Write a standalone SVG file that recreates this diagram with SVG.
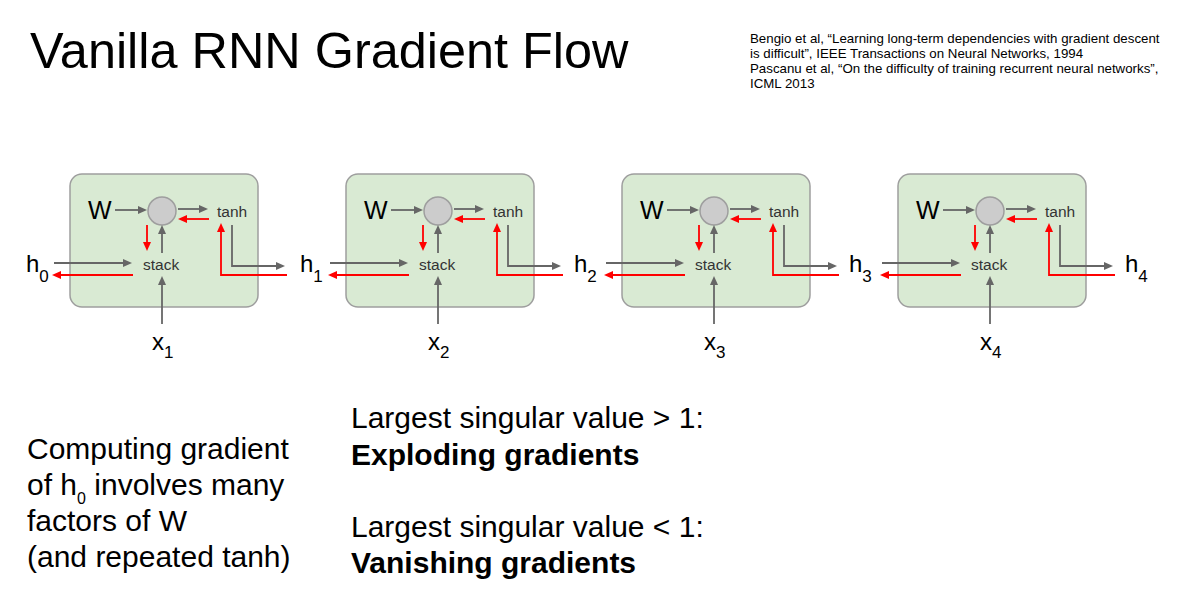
<svg xmlns="http://www.w3.org/2000/svg" width="1180" height="594" viewBox="0 0 1180 594">
<style>
text{font-family:"Liberation Sans",Arial,sans-serif;fill:#000}
.box{fill:#d9ead3;stroke:#9e9e9e;stroke-width:1.5}
.node{fill:#cccccc;stroke:#9e9e9e;stroke-width:1.5}
.sm{font-size:15.5px;fill:#333}
.w{font-size:25px}
.lbl{font-size:24px}
.sub{font-size:17px}
.g{fill:none;stroke:#666;stroke-width:1.8}
.r{fill:none;stroke:#ff0000;stroke-width:1.8}
.ref{font-size:13.3px}
.body{font-size:30px}
.bold{font-weight:bold}
</style>
<defs>
<marker id="ag" markerUnits="userSpaceOnUse" markerWidth="10" markerHeight="10" refX="6" refY="4" orient="auto"><path d="M0,0 L9,4 L0,8 z" fill="#666"/></marker>
<marker id="ar" markerUnits="userSpaceOnUse" markerWidth="10" markerHeight="10" refX="6" refY="4" orient="auto"><path d="M0,0 L9,4 L0,8 z" fill="#ff0000"/></marker>
</defs>
<rect width="1180" height="594" fill="#ffffff"/>
<g id="title"><text x="30" y="68" font-size="50.4">Vanilla RNN Gradient Flow</text></g>
<g id="references">
<text class="ref" x="750" y="43">Bengio et al, “Learning long-term dependencies with gradient descent</text>
<text class="ref" x="750" y="58">is difficult”, IEEE Transactions on Neural Networks, 1994</text>
<text class="ref" x="750" y="73">Pascanu et al, “On the difficulty of training recurrent neural networks”,</text>
<text class="ref" x="750" y="88">ICML 2013</text>
</g>
<g id="cell1">
<rect class="box" x="70" y="174" width="188" height="133" rx="12"/>
<text class="w" x="88" y="219">W</text>
<circle class="node" cx="162" cy="211" r="14"/>
<text class="sm" x="217" y="217">tanh</text>
<text class="sm" x="143" y="270">stack</text>
</g>
<g id="cell2" transform="translate(276,0)">
<rect class="box" x="70" y="174" width="188" height="133" rx="12"/>
<text class="w" x="88" y="219">W</text>
<circle class="node" cx="162" cy="211" r="14"/>
<text class="sm" x="217" y="217">tanh</text>
<text class="sm" x="143" y="270">stack</text>
</g>
<g id="cell3" transform="translate(552,0)">
<rect class="box" x="70" y="174" width="188" height="133" rx="12"/>
<text class="w" x="88" y="219">W</text>
<circle class="node" cx="162" cy="211" r="14"/>
<text class="sm" x="217" y="217">tanh</text>
<text class="sm" x="143" y="270">stack</text>
</g>
<g id="cell4" transform="translate(828,0)">
<rect class="box" x="70" y="174" width="188" height="133" rx="12"/>
<text class="w" x="88" y="219">W</text>
<circle class="node" cx="162" cy="211" r="14"/>
<text class="sm" x="217" y="217">tanh</text>
<text class="sm" x="143" y="270">stack</text>
</g>
<g id="h0"><text class="lbl" x="26" y="272">h<tspan class="sub" dy="10">0</tspan></text></g>
<g id="h1"><text class="lbl" x="300" y="272">h<tspan class="sub" dy="10">1</tspan></text></g>
<g id="h2"><text class="lbl" x="574" y="272">h<tspan class="sub" dy="10">2</tspan></text></g>
<g id="h3"><text class="lbl" x="849" y="272">h<tspan class="sub" dy="10">3</tspan></text></g>
<g id="h4"><text class="lbl" x="1125" y="272">h<tspan class="sub" dy="10">4</tspan></text></g>
<g id="x1"><text class="lbl" x="152" y="350">x<tspan class="sub" dy="8">1</tspan></text></g>
<g id="x2"><text class="lbl" x="428" y="350">x<tspan class="sub" dy="8">2</tspan></text></g>
<g id="x3"><text class="lbl" x="704" y="350">x<tspan class="sub" dy="8">3</tspan></text></g>
<g id="x4"><text class="lbl" x="980" y="350">x<tspan class="sub" dy="8">4</tspan></text></g>
<g id="connectors">
<g id="conn1">
<path class="g" d="M115,210 H144" marker-end="url(#ag)"/>
<path class="g" d="M178,209 H205" marker-end="url(#ag)"/>
<path class="r" d="M209,219 H181" marker-end="url(#ar)"/>
<path class="r" d="M147,225 V248" marker-end="url(#ar)"/>
<path class="g" d="M162,253 V228" marker-end="url(#ag)"/>
<path class="g" d="M54,263 H129" marker-end="url(#ag)"/>
<path class="r" d="M133,275 H55" marker-end="url(#ar)"/>
<path class="g" d="M162,324 V279" marker-end="url(#ag)"/>
<path class="g" d="M232,225 V266 H282" marker-end="url(#ag)"/>
<path class="r" d="M287,275 H221 V226" marker-end="url(#ar)"/>
</g>
<g id="conn2" transform="translate(276,0)">
<path class="g" d="M115,210 H144" marker-end="url(#ag)"/>
<path class="g" d="M178,209 H205" marker-end="url(#ag)"/>
<path class="r" d="M209,219 H181" marker-end="url(#ar)"/>
<path class="r" d="M147,225 V248" marker-end="url(#ar)"/>
<path class="g" d="M162,253 V228" marker-end="url(#ag)"/>
<path class="g" d="M54,263 H129" marker-end="url(#ag)"/>
<path class="r" d="M133,275 H55" marker-end="url(#ar)"/>
<path class="g" d="M162,324 V279" marker-end="url(#ag)"/>
<path class="g" d="M232,225 V266 H282" marker-end="url(#ag)"/>
<path class="r" d="M287,275 H221 V226" marker-end="url(#ar)"/>
</g>
<g id="conn3" transform="translate(552,0)">
<path class="g" d="M115,210 H144" marker-end="url(#ag)"/>
<path class="g" d="M178,209 H205" marker-end="url(#ag)"/>
<path class="r" d="M209,219 H181" marker-end="url(#ar)"/>
<path class="r" d="M147,225 V248" marker-end="url(#ar)"/>
<path class="g" d="M162,253 V228" marker-end="url(#ag)"/>
<path class="g" d="M54,263 H129" marker-end="url(#ag)"/>
<path class="r" d="M133,275 H55" marker-end="url(#ar)"/>
<path class="g" d="M162,324 V279" marker-end="url(#ag)"/>
<path class="g" d="M232,225 V266 H282" marker-end="url(#ag)"/>
<path class="r" d="M287,275 H221 V226" marker-end="url(#ar)"/>
</g>
<g id="conn4" transform="translate(828,0)">
<path class="g" d="M115,210 H144" marker-end="url(#ag)"/>
<path class="g" d="M178,209 H205" marker-end="url(#ag)"/>
<path class="r" d="M209,219 H181" marker-end="url(#ar)"/>
<path class="r" d="M147,225 V248" marker-end="url(#ar)"/>
<path class="g" d="M162,253 V228" marker-end="url(#ag)"/>
<path class="g" d="M54,263 H129" marker-end="url(#ag)"/>
<path class="r" d="M133,275 H55" marker-end="url(#ar)"/>
<path class="g" d="M162,324 V279" marker-end="url(#ag)"/>
<path class="g" d="M232,225 V266 H282" marker-end="url(#ag)"/>
<path class="r" d="M287,275 H221 V226" marker-end="url(#ar)"/>
</g>
</g>
<g id="note">
<text class="body" x="27" y="459">Computing gradient</text>
<text class="body" x="27" y="495">of h<tspan font-size="16px" dy="9">0</tspan><tspan dy="-9"> involves many</tspan></text>
<text class="body" x="27" y="531">factors of W</text>
<text class="body" x="27" y="567">(and repeated tanh)</text>
</g>
<g id="conclusions">
<text class="body" x="351" y="428">Largest singular value &gt; 1:</text>
<text class="body bold" x="351" y="465">Exploding gradients</text>
<text class="body" x="351" y="537">Largest singular value &lt; 1:</text>
<text class="body bold" x="351" y="573">Vanishing gradients</text>
</g>
</svg>
